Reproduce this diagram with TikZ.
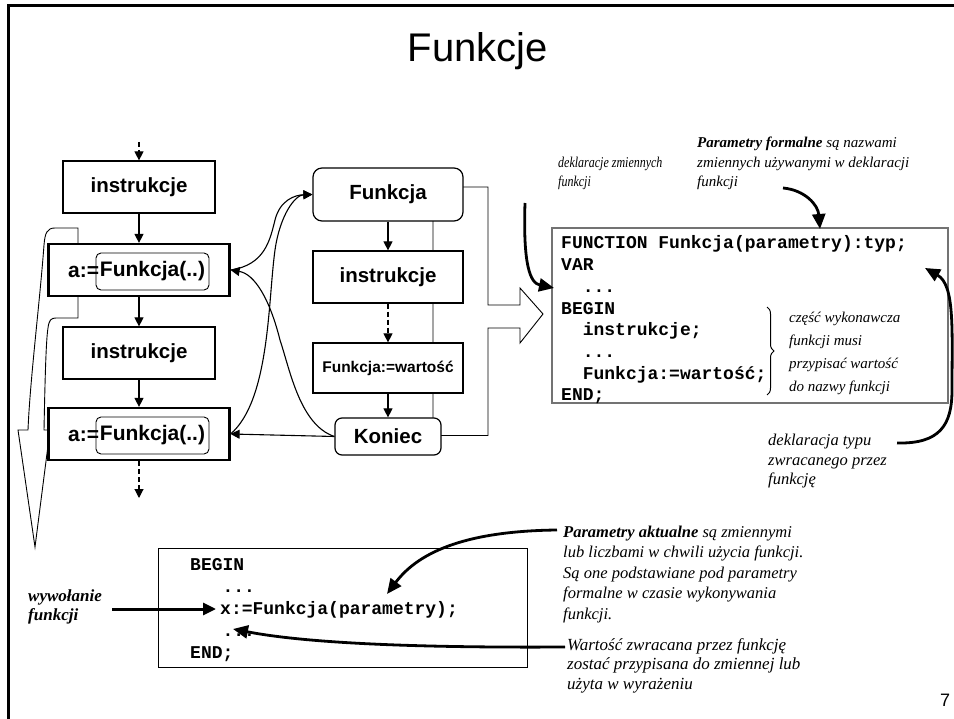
\documentclass[tikz,border=0pt]{standalone}
\usepackage{fontspec}
\setmainfont{Liberation Serif}
\setmonofont{Liberation Mono}
\newfontfamily\arial{Liberation Sans}
\newfontfamily\narrowserif[FakeStretch=0.8]{Liberation Serif}
\usetikzlibrary{arrows.meta,decorations.pathreplacing}

\tikzset{
  box/.style={draw, line width=1.2pt, fill=white, minimum width=152pt, minimum height=52pt,
    inner sep=0pt, font=\arial\bfseries\fontsize{20.5}{24}\selectfont},
  callbox/.style={box, line width=2.2pt, minimum width=181pt},
  fcall/.style={draw, line width=0.9pt, rounded corners=5pt, minimum width=113pt, minimum height=37pt,
    inner sep=0pt, font=\arial\bfseries\fontsize{21}{24}\selectfont},
  arr/.style={line width=1.1pt, -{Triangle[length=9pt,width=9pt]}},
  bigarr/.style={line width=2.8pt, -{Triangle[length=15pt,width=13pt]}},
  hollow/.style={draw, line width=0.9pt, fill=white},
  codeline/.style={anchor=base west, inner sep=0pt, font=\ttfamily\bfseries\fontsize{18}{22}\selectfont},
  note/.style={anchor=base west, inner sep=0pt, font=\itshape\fontsize{#1}{#1}\selectfont},
  narrownote/.style={anchor=base west, inner sep=0pt, font=\narrowserif\itshape\fontsize{#1}{#1}\selectfont},
  dashpat/.style={dash pattern=on 5pt off 3pt},
}

\begin{document}
\begin{tikzpicture}[x=1pt, y=-1pt]
\useasboundingbox (0,0) rectangle (954,719);

% slide frame and title
\draw[line width=2.6pt] (954,5.3) -- (8.3,5.3) -- (8.3,719);
\node[font=\arial\fontsize{40}{44}\selectfont, inner sep=0pt] (title) at (478,51) {Funkcje};
\node[font=\arial\fontsize{18}{20}\selectfont, inner sep=0pt] (pagenum) at (945,700) {7};

% hollow arrow of the calling program (behind the boxes)
\draw[hollow] (78,228) -- (55,228) .. controls (47,228) and (45,233) .. (44,245)
  .. controls (40,300) and (30,380) .. (28,430) -- (18,430) -- (35,547) -- (50,430) -- (44,430)
  .. controls (45,380) and (46,340) .. (48,328) .. controls (49,320) and (51,318) .. (56,318)
  -- (78,318) -- cycle;

% hollow arrow of the function body (behind the boxes)
\draw[hollow] (433,187) -- (488,187) -- (488,305) -- (520,305) -- (520,288) -- (543,314)
  -- (520,343) -- (520,328) -- (488,328) -- (488,435.5) -- (433,435.5) -- cycle;

% calling program
\coordinate (topin) at (139,142);
\coordinate (botout) at (139,498);
\node[box] (ins1) at (139,187) {instrukcje};
\node[callbox] (call1) at (139,270) {};
\node[anchor=base west, inner sep=0pt, font=\arial\bfseries\fontsize{21}{24}\selectfont] (as1) at (68,278) {a:=};
\node[fcall] (fc1) at (152.5,271.5) {Funkcja(..)};
\node[box] (ins2) at (139,353) {instrukcje};
\node[callbox] (call2) at (139,434) {};
\node[anchor=base west, inner sep=0pt, font=\arial\bfseries\fontsize{21}{24}\selectfont] (as2) at (68,442) {a:=};
\node[fcall] (fc2) at (152.5,435.5) {Funkcja(..)};

\draw[arr, dashpat] (topin) -- (ins1.north);
\draw[arr] (ins1.south) -- (call1.north);
\draw[arr] (call1.south) -- (ins2.north);
\draw[arr] (ins2.south) -- (call2.north);
\draw[arr, dashpat] (call2.south) -- (botout);

% function body
\node[box, rounded corners=9pt, minimum width=150pt, minimum height=53pt] (fun) at (388,194.5) {Funkcja};
\node[box, minimum width=150pt] (ins3) at (388,277) {instrukcje};
\node[box, minimum width=150pt, minimum height=50pt, font=\arial\bfseries\fontsize{15.5}{18}\selectfont] (wart) at (388,368) {Funkcja:=wartość};
\node[box, rounded corners=7pt, minimum width=106pt, minimum height=37pt] (kon) at (388,436.5) {Koniec};

\draw[arr] (fun.south) -- (ins3.north);
\draw[arr, dashpat] (ins3.south) -- (wart.north);
\draw[arr] (wart.south) -- (kon.north);

% calls and returns
\draw[arr] (call1.east) .. controls (265,265) and (270,240) .. (275,220)
  .. controls (280,200) and (295,195) .. (fun.west);
\draw[arr] (call2.east) .. controls (270,400) and (268,300) .. (275,250)
  .. controls (280,215) and (295,195) .. (fun.west);
\draw[arr] (kon.west) .. controls (300,425) and (290,370) .. (280,340)
  .. controls (270,300) and (255,274) .. (call1.east);
\draw[arr] (kon.west) -- (call2.east);

% function declaration
\node[draw=black!55, line width=1.5pt, fill=white, minimum width=396pt, minimum height=175pt, inner sep=0pt] (codebox) at (750,315.5) {};
\node[codeline] (c1) at (561,249) {FUNCTION Funkcja(parametry):typ;};
\node[codeline] (c2) at (561,270.7) {VAR};
\node[codeline] (c3) at (582.6,292.4) {...};
\node[codeline] (c4) at (561,314.1) {BEGIN};
\node[codeline] (c5) at (582.6,335.8) {instrukcje;};
\node[codeline] (c6) at (582.6,357.5) {...};
\node[codeline] (c7) at (582.6,379.2) {Funkcja:=wartość;};
\node[codeline] (c8) at (561,401) {END;};
\draw[line width=1pt, decorate, decoration={brace, amplitude=7pt}] (767,307) -- (767,395);

\foreach \t [count=\i] in {{część wykonawcza},{funkcji musi},{przypisać wartość},{do nazwy funkcji}}
  \node[note=15] (cz\i) at (789,{323+23*(\i-1)}) {\t};

% annotations around the declaration
\foreach \t [count=\i] in {{deklaracje zmiennych},{funkcji}}
  \node[narrownote=15] (dz\i) at (558,{168+19*(\i-1)}) {\t};
\foreach \t [count=\i] in {{\textbf{Parametry formalne} są nazwami},{zmiennych używanymi w deklaracji},{funkcji}}
  \node[note=15] (pf\i) at (697,{148+19.5*(\i-1)}) {\t};
\foreach \t [count=\i] in {{deklaracja typu},{zwracanego przez},{funkcję}}
  \node[note=16.5] (dt\i) at (768,{446+19*(\i-1)}) {\t};

\coordinate (dzs) at (525,203);
\coordinate (pfs) at (783,188);
\coordinate (dts) at (897,443);
\coordinate (varin) at (554,288);
\coordinate (parin) at (820,229);
\coordinate (typin) at (925,268);
\draw[bigarr] (dzs) .. controls (523,265) and (530,283) .. (varin);
\draw[bigarr] (pfs) .. controls (805,190) and (818,205) .. (parin);
\draw[bigarr] (dts) .. controls (940,444) and (952,425) .. (952,390)
  .. controls (952,330) and (955,285) .. (typin);

% function call
\node[draw, line width=0.9pt, fill=white, minimum width=369pt, minimum height=119pt, inner sep=0pt] (callbox) at (342.5,607.5) {};
\node[codeline] (b1) at (190,570) {BEGIN};
\node[codeline] (b2) at (222.4,592) {...};
\node[codeline] (b3) at (220,614) {x:=Funkcja(parametry);};
\node[codeline] (b4) at (222.4,636) {...};
\node[codeline] (b5) at (190,658) {END;};

\foreach \t [count=\i] in {{\textbf{wywołanie}},{\textbf{funkcji}}}
  \node[note=17] (wy\i) at (28,{601+19*(\i-1)}) {\t};
\foreach \t [count=\i] in {{\textbf{Parametry aktualne} są zmiennymi},{lub liczbami w chwili użycia funkcji.},{Są one podstawiane pod parametry},{formalne w czasie wykonywania},{funkcji.}}
  \node[note=16.5] (pa\i) at (563,{537+20.5*(\i-1)}) {\t};
\foreach \t [count=\i] in {{Wartość zwracana przez funkcję},{zostać przypisana do zmiennej lub},{użyta w wyrażeniu}}
  \node[note=17] (wz\i) at (567,{650+19.5*(\i-1)}) {\t};

\coordinate (wys) at (112,609);
\coordinate (wyin) at (216,609);
\coordinate (pas) at (557,530);
\coordinate (pain) at (387,594);
\coordinate (wzs) at (565,647);
\coordinate (wzin) at (233,629);
\draw[line width=3pt, -{Triangle[length=13pt,width=12pt]}] (wys) -- (wyin);
\draw[bigarr] (pas) .. controls (470,531) and (420,550) .. (pain);
\draw[bigarr] (wzs) .. controls (400,648) and (300,642) .. (wzin);
\end{tikzpicture}
\end{document}
